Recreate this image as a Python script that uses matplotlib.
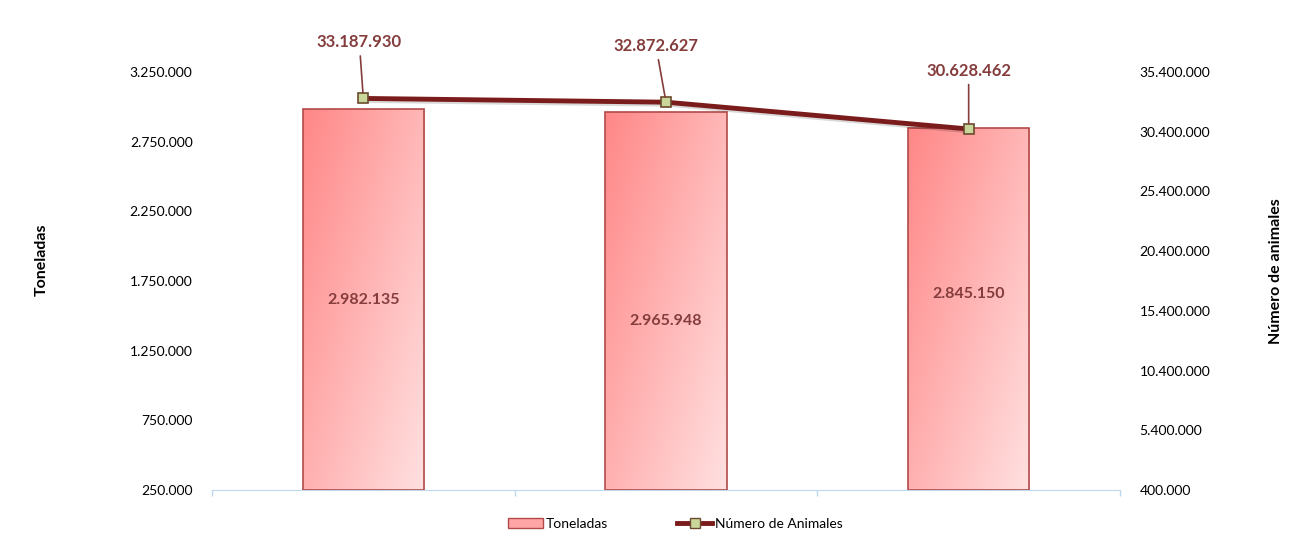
import matplotlib.pyplot as plt
import numpy as np
from matplotlib.ticker import FuncFormatter, FixedLocator
from matplotlib.patches import Patch
from matplotlib.lines import Line2D
import matplotlib.patheffects as pe

plt.rcParams['font.family'] = ['Lato', 'DejaVu Sans']

# data
categorias = ['2017', '2018', '2019']
toneladas = [2982135, 2965948, 2845150]
num_animales = [33187930, 32872627, 30628462]

left_ticks = [250000, 750000, 1250000, 1750000, 2250000, 2750000, 3250000]
right_ticks = [400000, 5400000, 10400000, 15400000, 20400000, 25400000, 30400000, 35400000]

LABEL_COLOR = '#843C3C'
LINE_COLOR = '#7A1C1C'


def miles(v, _pos=None):
    return f'{int(round(v)):,}'.replace(',', '.')


fig = plt.figure(figsize=(12.99, 5.53), dpi=100)
ax = fig.add_axes([212 / 1299, 1 - 490 / 553, (1120 - 212) / 1299, (490 - 72) / 553])
ax2 = ax.twinx()

x = np.arange(len(categorias))
base = left_ticks[0]
width = 0.4

# gradient bars: saturated top-left -> light bottom-right
grad = np.zeros((100, 100, 3))
yy, xx = np.mgrid[0:1:100j, 0:1:100j]
t = np.clip((xx * 0.7 + yy * 0.6) / 1.3, 0, 1)
c0 = np.array([1.0, 0.53, 0.53])
c1 = np.array([1.0, 0.88, 0.88])
for k in range(3):
    grad[..., k] = c0[k] + (c1[k] - c0[k]) * t

bars = ax.bar(x, np.array(toneladas) - base, bottom=base, width=width,
              facecolor='none', edgecolor='#B24A4A', linewidth=1.2, zorder=3)
for b in bars:
    bx, by = b.get_x(), b.get_y()
    im = ax.imshow(grad, extent=[bx, bx + b.get_width(), by, by + b.get_height()],
                   origin='upper', aspect='auto', zorder=2, interpolation='bilinear')
    im.set_clip_path(b)

# inner bar labels (manually placed like the original)
inner_y = [1616000, 1465000, 1660000]
for i, v in enumerate(toneladas):
    ax.text(x[i], inner_y[i], miles(v), ha='center', va='center',
            fontsize=11.5, fontweight='bold', color=LABEL_COLOR, zorder=5)

ax.set_xlim(-0.5, 2.5)
ax.set_ylim(left_ticks[0], left_ticks[-1])
ax.yaxis.set_major_locator(FixedLocator(left_ticks))
ax.yaxis.set_major_formatter(FuncFormatter(miles))
ax.set_xticks([-0.5, 0.5, 1.5, 2.5])
ax.set_xticklabels([])
ax.tick_params(axis='x', length=4, color='#BDD7EE', width=1)
ax.tick_params(axis='y', length=0, pad=14, labelsize=10)
for s in ['top', 'left', 'right']:
    ax.spines[s].set_visible(False)
ax.spines['bottom'].set_color('#BDD7EE')
ax.set_ylabel('Toneladas', fontsize=11.5, fontweight='bold')
ax.yaxis.set_label_coords(-0.18, 0.55)

# line on secondary axis
ax2.plot(x, num_animales, color=LINE_COLOR, linewidth=3.5, zorder=6,
         path_effects=[pe.SimpleLineShadow(offset=(1.5, -1.5), alpha=0.15), pe.Normal()])
ax2.plot(x, num_animales, linestyle='none', marker='s', markersize=7,
         markerfacecolor='#C9D89A', markeredgecolor='#6B4A2E', markeredgewidth=1.2, zorder=7)
ax2.set_ylim(right_ticks[0], right_ticks[-1])
ax2.yaxis.set_major_locator(FixedLocator(right_ticks))
ax2.yaxis.set_major_formatter(FuncFormatter(miles))
ax2.tick_params(axis='y', length=0, pad=14, labelsize=10)
for s in ['top', 'left', 'right', 'bottom']:
    ax2.spines[s].set_visible(False)
ax2.set_ylabel('Número de animales', fontsize=11.5, fontweight='bold')
ax2.yaxis.set_label_coords(1.164, 0.524)

# point labels with leader lines (offsets in pixels)
offsets = [(-4, 48), (-10, 48), (0, 50)]
for i, v in enumerate(num_animales):
    dx, dy = offsets[i]
    ax2.annotate(miles(v), xy=(x[i], v), xytext=(dx, dy), textcoords='offset pixels',
                 ha='center', va='bottom', fontsize=12, fontweight='bold', color=LABEL_COLOR,
                 arrowprops=dict(arrowstyle='-', color=LABEL_COLOR, lw=1.2,
                                 shrinkA=2, shrinkB=4), zorder=8)

# legend
handles = [
    Patch(facecolor='#FFA5A5', edgecolor='#B24A4A', label='Toneladas'),
    Line2D([0], [0], color=LINE_COLOR, linewidth=3.5, marker='s', markersize=7,
           markerfacecolor='#C9D89A', markeredgecolor='#6B4A2E', label='Número de Animales'),
]
fig.legend(handles=handles, loc='center', bbox_to_anchor=(0.52, 1 - 524 / 553), ncol=2,
           frameon=False, fontsize=10, handlelength=2.5, columnspacing=5, handletextpad=0.2)

fig.savefig('out.png', dpi=100)
